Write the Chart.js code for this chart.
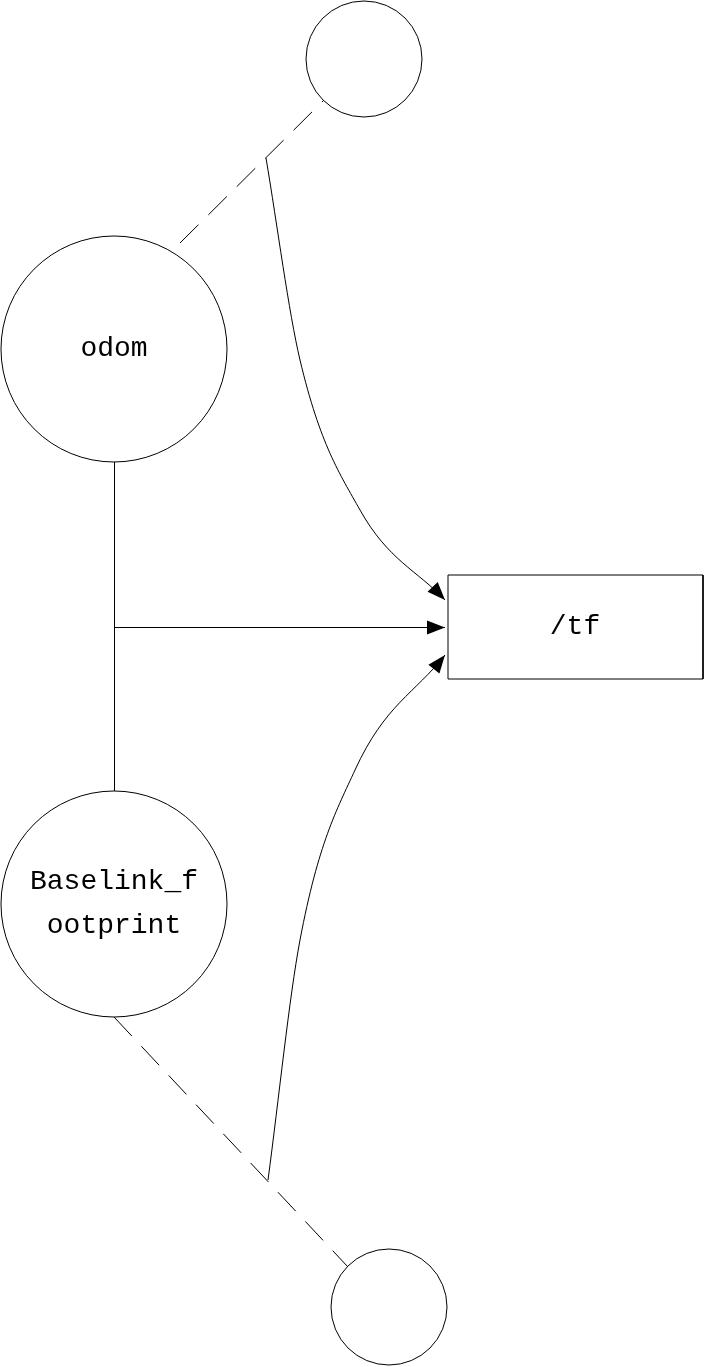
<!DOCTYPE html>
<html><head><meta charset="utf-8">
<script src="https://cdn.jsdelivr.net/npm/chart.js@4/dist/chart.umd.min.js"></script>
<style>html,body{margin:0;padding:0;background:#fff}#w{width:704px;height:1367px}</style>
</head><body><div id="w"><canvas id="c"></canvas></div>
<script>
// nodes: [x, y, radius]
const circleNodes = [[364,59,58],[114,349,113],[114,904,113],[389,1307,58]];
const nodeLabels = [["odom",114,349],["/tf",575,627],["Baselink_f",114,882],["ootprint",114,926]];
const tfBox = [[448,575],[703,575],[703,679],[448,679],[448,575]];
const solidEdge = [[114.5,462],[114.5,791]];
const arrowEdge = [[114,627.5],[445,627.5]];
const dashTop = [[180,243],[323,101]];
const dashBottom = [[114,1017],[348,1267]];
const curveTop = [[266,158],[300,360],[360,510],[445,600]];
const curveBottom = [[268,1180],[300,940],[355,770],[445,655]];
const pts = a => a.map(p => ({x:p[0], y:p[1]}));
const lineDs = (d, extra) => Object.assign({type:'line', data:pts(d), borderColor:'#000', borderWidth:1, pointRadius:0, fill:false, tension:0, clip:false}, extra||{});

const arrowPlugin = {
  id:'deco',
  afterDatasetsDraw(chart){
    const {ctx, scales:{x,y}} = chart;
    const heads = [[arrowEdge[0],arrowEdge[1]],[curveTop[2],curveTop[3]],[curveBottom[2],curveBottom[3]]];
    ctx.save();ctx.fillStyle='#000';
    heads.forEach(([a,b])=>{
      const bx=x.getPixelForValue(b[0]), by=y.getPixelForValue(b[1]);
      const ax=x.getPixelForValue(a[0]), ay=y.getPixelForValue(a[1]);
      const ang=Math.atan2(by-ay,bx-ax), L=18, W=7;
      ctx.beginPath();ctx.moveTo(bx,by);
      ctx.lineTo(bx-L*Math.cos(ang)+W*Math.sin(ang), by-L*Math.sin(ang)-W*Math.cos(ang));
      ctx.lineTo(bx-L*Math.cos(ang)-W*Math.sin(ang), by-L*Math.sin(ang)+W*Math.cos(ang));
      ctx.closePath();ctx.fill();
    });
    ctx.font='28px "Liberation Mono", "DejaVu Sans Mono", monospace';
    ctx.textAlign='center';ctx.textBaseline='middle';
    nodeLabels.forEach(([t,px,py])=>ctx.fillText(t,x.getPixelForValue(px),y.getPixelForValue(py)));
    ctx.restore();
  }
};

new Chart(document.getElementById('c'), {
  type:'scatter',
  data:{datasets:[
    {type:'scatter', clip:false, data:circleNodes.map(c=>({x:c[0],y:c[1]})), pointRadius:circleNodes.map(c=>c[2]), pointHoverRadius:circleNodes.map(c=>c[2]), pointBackgroundColor:'rgba(0,0,0,0)', pointBorderColor:'#000', pointBorderWidth:1},
    lineDs(tfBox),
    lineDs(solidEdge),
    lineDs(arrowEdge),
    lineDs(dashTop,{borderDash:[26,14]}),
    lineDs(dashBottom,{borderDash:[26,14]}),
    lineDs(curveTop,{tension:0.4, cubicInterpolationMode:'monotone'}),
    lineDs(curveBottom,{tension:0.4, cubicInterpolationMode:'monotone'})
  ]},
  options:{
    responsive:true, maintainAspectRatio:false, animation:false,
    layout:{padding:0, autoPadding:false},
    events:[],
    plugins:{legend:{display:false}, tooltip:{enabled:false}},
    scales:{
      x:{type:'linear', min:0, max:704, display:false},
      y:{type:'linear', min:0, max:1367, reverse:true, display:false}
    }
  },
  plugins:[arrowPlugin]
});
</script></body></html>
